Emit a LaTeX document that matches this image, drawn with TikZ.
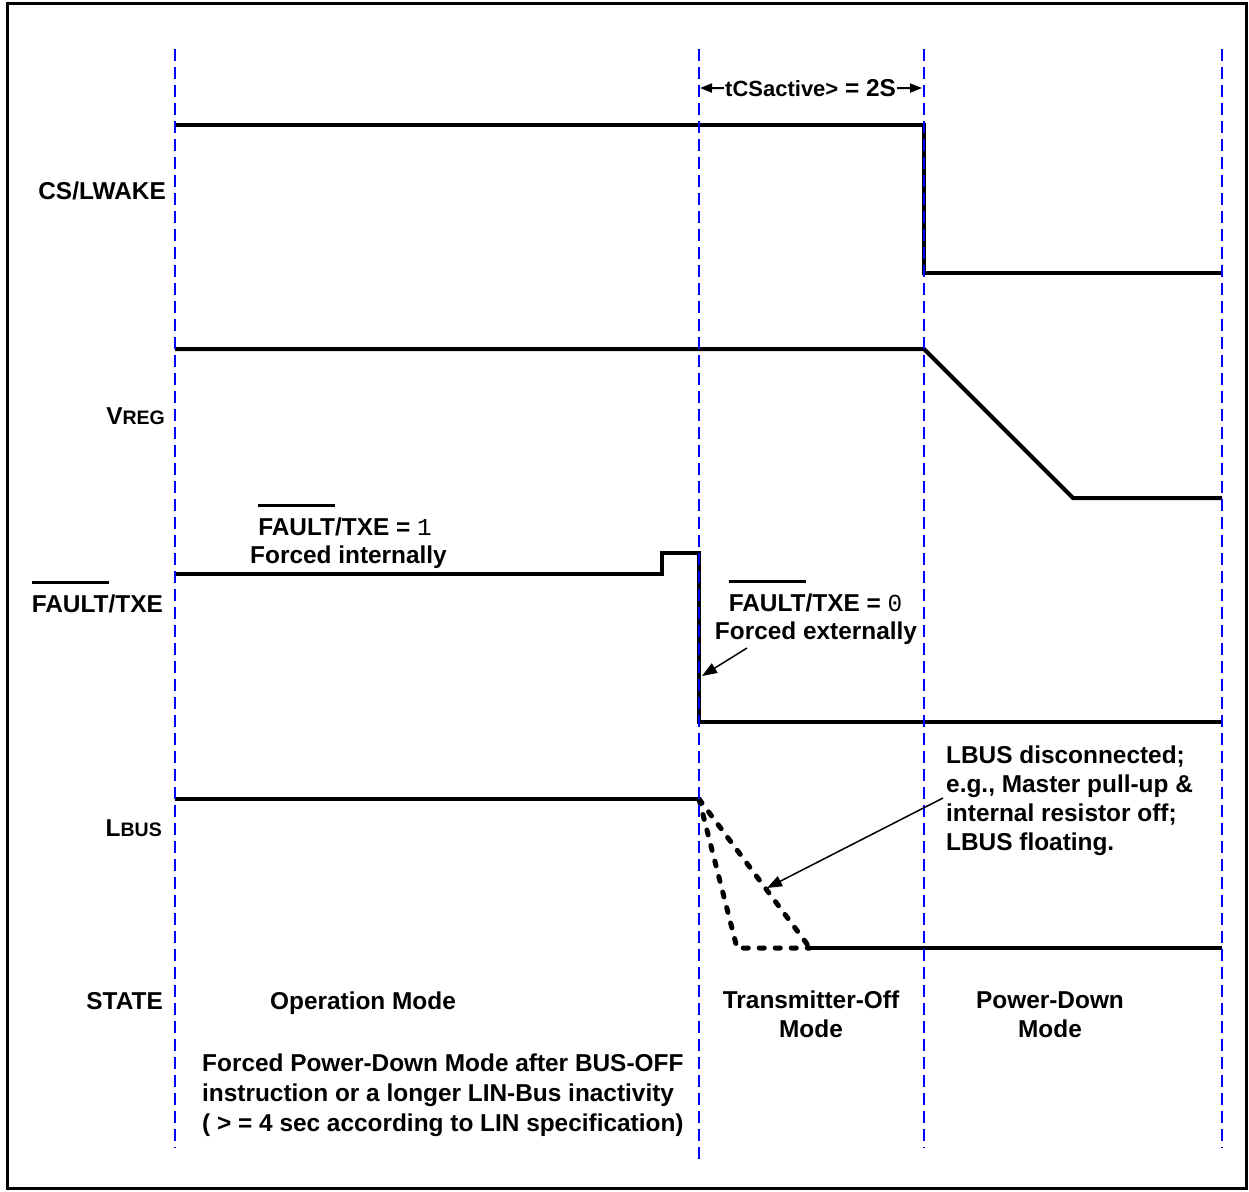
\documentclass[tikz,border=0pt]{standalone}
\usepackage{fontspec}
\setmainfont{Liberation Sans}
\newfontfamily\monofnt{Liberation Mono}
\usetikzlibrary{arrows.meta}
\definecolor{gridblue}{RGB}{0,0,255}
\newlength\olbarlen
\newcommand\olbar[1]{\settowidth\olbarlen{#1}\rlap{\raisebox{28.5pt}{\rule{\olbarlen}{2.6pt}}}#1}
\tikzset{
  lbl/.style={font=\fontsize{24.4}{29}\selectfont\bfseries, inner sep=0pt},
  sig/.style={line width=4pt, line join=miter},
  dsig/.style={line width=5pt, dash pattern=on 5pt off 11pt, line cap=round},
  gridline/.style={draw=gridblue, line width=2.5pt, dash pattern=on 12pt off 6pt},
  pointer/.style={line width=1.5pt, -{Triangle[length=15pt,width=11pt]}},
  dimarrow/.style={line width=2pt, -{Triangle[length=12pt,width=9pt]}},
}
\begin{document}
\begin{tikzpicture}[x=1pt,y=-1pt]
\useasboundingbox (0,0) rectangle (1249,1191);
\draw[line width=3pt] (7,3) rectangle (1246,1188);

% labels on the left
\node[lbl,anchor=base east] (cs) at (166,199) {CS/LWAKE};
\node[lbl,anchor=base east] (vreg) at (165,424) {V{\fontsize{19.5}{23}\selectfont REG}};
\node[lbl,anchor=base east] (flt) at (163,612) {\olbar{FAULT}/TXE};
\node[lbl,anchor=base east] (lbus) at (162,836) {L{\fontsize{19.5}{23}\selectfont BUS}};
\node[lbl,anchor=base east] (state) at (163,1009) {STATE};

% states
\node[lbl,anchor=base] (op) at (363,1009) {Operation Mode};
\node[lbl,anchor=base] (tx1) at (811,1008) {Transmitter-Off};
\node[lbl,anchor=base] (tx2) at (811,1037) {Mode};
\node[lbl,anchor=base] (pd1) at (1050,1008) {Power-Down};
\node[lbl,anchor=base] (pd2) at (1050,1037) {Mode};

\node[lbl,anchor=base west] (b1) at (202,1071) {Forced Power-Down Mode after BUS-OFF};
\node[lbl,anchor=base west] (b2) at (202,1101) {instruction or a longer LIN-Bus inactivity};
\node[lbl,anchor=base west] (b3) at (202,1131) {( > = 4 sec according to LIN specification)};

% fault annotations
\node[lbl,anchor=base] (f1a) at (345,535.5) {\olbar{FAULT}/TXE = {\mdseries\monofnt 1}};
\node[lbl,anchor=base] (f1b) at (348.5,563.5) {Forced internally};
\node[lbl,anchor=base] (f0a) at (815.5,611) {\olbar{FAULT}/TXE = {\mdseries\monofnt 0}};
\node[lbl,anchor=base] (f0b) at (816,639) {Forced externally};

% LBUS annotation
\node[lbl,anchor=base west] (l1) at (946,763) {LBUS disconnected;};
\node[lbl,anchor=base west] (l2) at (946,792) {e.g., Master pull-up \&};
\node[lbl,anchor=base west] (l3) at (946,821) {internal resistor off;};
\node[lbl,anchor=base west] (l4) at (946,850) {LBUS floating.};

% timing annotation
\node[inner sep=0pt,anchor=base west,font=\bfseries] (tcs) at (725,96.5)
  {\fontsize{22}{26}\selectfont tCSactive>\fontsize{24.4}{29}\selectfont{} = 2S};
\coordinate (tl) at (700,88);
\coordinate (tr) at (922,88);
\draw[dimarrow] ([xshift=-1pt]tcs.west) -- (tl);
\draw[dimarrow] ([xshift=1pt]tcs.east) -- (tr);

% waveforms
\coordinate (cs0) at (175,125);
\coordinate (cs1) at (924,125);
\coordinate (cs2) at (924,273);
\coordinate (cs3) at (1222,273);
\draw[sig] (cs0) -- (cs1) -- (cs2) -- (cs3);

\coordinate (v0) at (175,349);
\coordinate (v1) at (924,349);
\coordinate (v2) at (1073,498);
\coordinate (v3) at (1222,498);
\draw[sig] (v0) -- (v1) -- (v2) -- (v3);

\coordinate (t0) at (175,574);
\coordinate (t1) at (662,574);
\coordinate (t2) at (662,553);
\coordinate (t3) at (699,553);
\coordinate (t4) at (699,722);
\coordinate (t5) at (1222,722);
\draw[sig,line width=3.5pt] (t0) -- (t1) -- (t2) -- (t3) -- (t4) -- (t5);

\coordinate (lb0) at (175,799);
\coordinate (lb1) at (699,799);
\coordinate (lb2) at (810,948);
\coordinate (lb3) at (737,948);
\coordinate (lb4) at (1222,948);
\draw[sig] (lb0) -- (lb1);
\draw[dsig] (lb1) -- (lb2);
\draw[dsig] (lb1) -- (lb3) -- (lb2);
\draw[sig] (lb2) -- (lb4);

% grid lines
\draw[gridline] (175,49) -- (175,1148);
\draw[gridline] (699,49) -- (699,1159);
\draw[gridline] (924,49) -- (924,1148);
\draw[gridline] (1222,49) -- (1222,1148);

% pointers
\coordinate (pf0) at (747,648);
\coordinate (pf1) at (702,676);
\draw[pointer] (pf0) -- (pf1);
\coordinate (pl0) at (943,798);
\coordinate (pl1) at (767,888);
\draw[pointer] (pl0) -- (pl1);
\end{tikzpicture}
\end{document}
